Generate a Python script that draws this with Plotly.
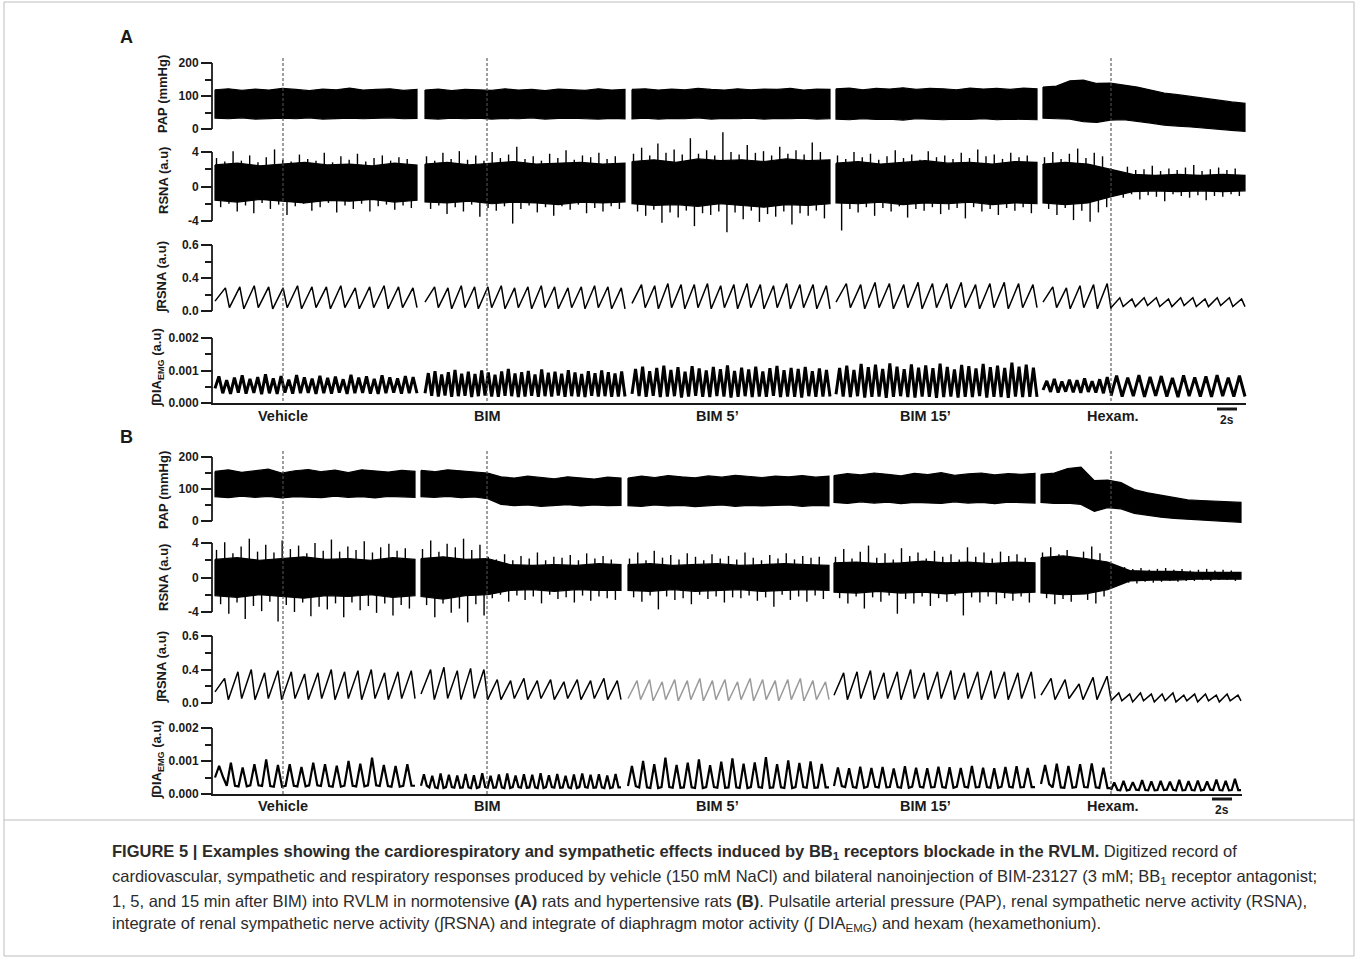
import numpy as np
import plotly.graph_objects as go

W, H = 1358, 959
FONT = "Liberation Sans, Arial, Helvetica, sans-serif"
INK = "#1a1a1a"

# ---------------- categories / labels ----------------
SEGMENT_LABELS = ["Vehicle", "BIM", "BIM 5’", "BIM 15’", "Hexam."]
SEGMENT_LABEL_T = [6.8, 27.2, 50.2, 71.0, 89.8]     # s
DASH_T = [6.8, 27.2, 89.6]                          # s (injection markers)

# time windows of each recording segment (s)
A_SEG_T = [(0.0, 20.2), (21.0, 41.0), (41.7, 61.5), (62.1, 82.2), (82.8, 103.0)]
B_SEG_T = [(0.0, 20.0), (20.6, 40.6), (41.3, 61.4), (61.9, 82.0), (82.6, 102.6)]
# pieces for rhythmic traces: hexam segment split at the injection mark
A_PIECE_T = A_SEG_T[:4] + [(82.8, 89.6), (89.6, 103.0)]
B_PIECE_T = B_SEG_T[:4] + [(82.6, 89.6), (89.6, 102.6)]

# ---------------- panel A (normotensive) ----------------
A_PAP_TOP = [
    [119, 122, 117, 121, 118, 123, 120, 116, 121, 119, 124, 118, 120, 122, 117, 120],
    [118, 121, 116, 120, 119, 117, 122, 118, 120, 116, 121, 119, 117, 122, 118, 120],
    [120, 122, 118, 121, 119, 123, 120, 118, 122, 119, 121, 120, 123, 118, 121, 120],
    [122, 124, 119, 123, 121, 125, 120, 123, 122, 119, 124, 121, 123, 120, 124, 122],
    [127, 130, 146, 148, 138, 139, 133, 127, 118, 109, 104, 98, 94, 88, 82, 78],
]
A_PAP_BOT = [
    [33, 31, 34, 30, 32, 33, 31, 34, 30, 32, 33, 31, 32, 34, 31, 32],
    [32, 30, 33, 31, 33, 30, 32, 31, 34, 30, 32, 33, 31, 30, 32, 31],
    [31, 33, 30, 32, 31, 34, 30, 32, 31, 33, 30, 32, 31, 33, 30, 31],
    [30, 28, 31, 29, 30, 27, 31, 29, 28, 30, 29, 31, 28, 30, 29, 28],
    [33, 31, 30, 22, 20, 27, 28, 24, 18, 12, 9, 6, 3, 0, -4, -7],
]
A_RSNA_CORE_TOP = [
    [2.5, 2.7, 2.4, 2.6, 2.8, 2.5, 2.6, 2.4, 2.7, 2.5],
    [2.6, 2.8, 2.5, 2.7, 2.9, 2.6, 2.7, 2.8, 2.6, 2.7],
    [2.9, 3.1, 2.8, 3.2, 3.0, 3.1, 2.9, 3.2, 3.0, 3.1],
    [2.7, 2.9, 2.6, 2.8, 3.0, 2.7, 2.8, 2.6, 2.9, 2.8],
    [2.6, 2.8, 2.6, 2.0, 1.4, 1.3, 1.4, 1.3, 1.4, 1.3],
]
A_RSNA_CORE_BOT = [
    [-1.6, -1.8, -1.5, -1.7, -1.9, -1.6, -1.7, -1.5, -1.8, -1.6],
    [-1.8, -1.9, -1.7, -2.0, -1.8, -1.9, -2.1, -1.8, -1.9, -1.8],
    [-2.0, -2.2, -2.1, -2.3, -2.0, -2.2, -2.4, -2.1, -2.2, -2.0],
    [-1.9, -2.0, -1.8, -2.1, -1.9, -2.0, -1.8, -2.1, -1.9, -2.0],
    [-1.9, -2.1, -1.9, -1.2, -0.6, -0.5, -0.6, -0.5, -0.6, -0.5],
]
A_RSNA_SPIKE_HI = [
    [3.3, 2.9, 4.1, 3.0, 3.6, 2.8, 3.4, 4.3, 3.1, 2.9, 3.7, 3.2, 3.0, 3.9, 2.8, 3.5, 3.1, 3.8, 2.9, 3.3, 3.6, 3.0, 3.4, 3.2],
    [3.5, 3.0, 3.9, 3.2, 4.1, 3.1, 3.6, 3.0, 4.0, 3.3, 3.7, 4.6, 3.2, 3.5, 3.0, 3.8, 3.3, 4.2, 3.1, 3.6, 3.4, 3.9, 3.2, 3.5],
    [3.8, 4.5, 3.6, 5.0, 3.9, 4.3, 3.7, 5.6, 3.8, 4.2, 3.6, 6.3, 4.0, 3.7, 4.8, 3.9, 4.1, 3.6, 4.6, 3.8, 4.2, 3.7, 5.1, 4.0],
    [3.6, 3.2, 4.0, 3.4, 3.8, 3.1, 3.5, 4.2, 3.3, 3.7, 3.1, 4.1, 3.4, 3.6, 3.2, 3.9, 3.3, 4.3, 3.5, 3.7, 3.2, 3.9, 3.4, 3.6],
    [3.4, 4.0, 3.2, 3.8, 4.4, 3.3, 3.9, 3.5, 2.1, 1.8, 2.3, 1.9, 2.0, 2.4, 1.8, 2.1, 1.9, 2.2, 2.5, 1.8, 2.0, 2.2, 1.9, 2.1],
]
A_RSNA_SPIKE_LO = [
    [-2.4, -2.0, -2.9, -2.2, -3.1, -1.9, -2.6, -2.1, -3.3, -2.3, -2.0, -2.8, -2.4, -1.9, -3.0, -2.2, -2.6, -2.0, -2.9, -2.3, -2.1, -2.7, -2.2, -2.5],
    [-2.6, -2.2, -3.2, -2.4, -2.9, -2.1, -3.5, -2.5, -2.8, -2.3, -4.3, -2.6, -2.2, -3.0, -2.4, -3.4, -2.3, -2.7, -2.1, -3.1, -2.5, -2.9, -2.3, -2.6],
    [-2.9, -3.4, -2.7, -4.2, -3.0, -3.6, -2.8, -4.6, -3.1, -3.3, -2.9, -5.3, -3.0, -3.8, -2.8, -4.1, -3.2, -3.5, -2.9, -4.4, -3.1, -3.4, -2.8, -3.7],
    [-5.1, -2.6, -3.0, -2.4, -3.4, -2.5, -2.9, -2.3, -3.6, -2.6, -2.8, -2.4, -3.2, -2.7, -2.5, -3.7, -2.4, -2.9, -2.6, -3.3, -2.5, -2.8, -2.4, -3.1],
    [-2.6, -3.3, -2.5, -3.9, -2.8, -4.1, -3.0, -2.4, -1.1, -1.3, -0.9, -1.5, -1.0, -1.2, -1.7, -0.9, -1.1, -1.3, -1.0, -1.6, -1.1, -1.2, -0.9, -1.1],
]
A_INT_PEAK = [
    [0.21, 0.22, 0.23, 0.22, 0.21, 0.23, 0.22, 0.22, 0.23, 0.21, 0.22, 0.23, 0.22, 0.21],
    [0.22, 0.21, 0.23, 0.22, 0.22, 0.23, 0.21, 0.22, 0.23, 0.22, 0.21, 0.22, 0.23, 0.22, 0.21],
    [0.24, 0.23, 0.25, 0.24, 0.24, 0.25, 0.23, 0.24, 0.25, 0.24, 0.23, 0.25, 0.24, 0.24, 0.23],
    [0.25, 0.24, 0.26, 0.25, 0.24, 0.26, 0.25, 0.25, 0.26, 0.24, 0.25, 0.26, 0.25, 0.24],
    [0.22, 0.21, 0.23, 0.24, 0.25],
    [0.12, 0.11, 0.12, 0.12, 0.11, 0.12, 0.12, 0.11, 0.12, 0.12, 0.11],
]
A_INT_TROUGH = [
    [0.09, 0.03, 0.02, 0.03, 0.02, 0.03, 0.02, 0.03, 0.02, 0.03, 0.02, 0.03, 0.02, 0.03],
    [0.08, 0.03, 0.02, 0.03, 0.02, 0.03, 0.02, 0.03, 0.02, 0.03, 0.02, 0.03, 0.02, 0.03, 0.02],
    [0.07, 0.03, 0.02, 0.03, 0.02, 0.03, 0.02, 0.03, 0.02, 0.03, 0.02, 0.03, 0.02, 0.03, 0.02],
    [0.08, 0.03, 0.02, 0.03, 0.02, 0.03, 0.02, 0.03, 0.02, 0.03, 0.02, 0.03, 0.02, 0.03],
    [0.08, 0.03, 0.02, 0.03, 0.02],
    [0.03, 0.04, 0.04, 0.05, 0.04, 0.04, 0.05, 0.04, 0.04, 0.05, 0.04],
]
A_DIA_PEAK = [
    [0.00082, 0.00070, 0.00078, 0.00085, 0.00074, 0.00080, 0.00088, 0.00076, 0.00083, 0.00072, 0.00086, 0.00079, 0.00075,
     0.00084, 0.00077, 0.00081, 0.00073, 0.00087, 0.00078, 0.00082, 0.00074, 0.00085, 0.00079, 0.00076, 0.00083, 0.00080],
    [0.00092, 0.00098, 0.00088, 0.00095, 0.00102, 0.00090, 0.00096, 0.00089, 0.00100, 0.00094, 0.00087, 0.00097, 0.00105,
     0.00091, 0.00095, 0.00099, 0.00088, 0.00103, 0.00093, 0.00096, 0.00090, 0.00101, 0.00094, 0.00089, 0.00098, 0.00092,
     0.00100, 0.00095, 0.00091, 0.00097],
    [0.00105, 0.00112, 0.00098, 0.00108, 0.00115, 0.00102, 0.00110, 0.00096, 0.00113, 0.00106, 0.00100, 0.00111, 0.00104,
     0.00116, 0.00099, 0.00109, 0.00103, 0.00112, 0.00097, 0.00107, 0.00114, 0.00101, 0.00108, 0.00105, 0.00111, 0.00098,
     0.00106, 0.00102],
    [0.00108, 0.00115, 0.00102, 0.00120, 0.00110, 0.00118, 0.00105, 0.00122, 0.00112, 0.00104, 0.00119, 0.00109, 0.00116,
     0.00107, 0.00121, 0.00111, 0.00103, 0.00117, 0.00113, 0.00106, 0.00120, 0.00110, 0.00115, 0.00108, 0.00124, 0.00112,
     0.00118, 0.00109],
    [0.00068, 0.00074, 0.00066, 0.00072, 0.00070, 0.00076, 0.00067, 0.00073, 0.00080],
    [0.00084, 0.00078, 0.00086, 0.00080, 0.00083, 0.00077, 0.00085, 0.00079, 0.00082, 0.00086, 0.00078, 0.00084],
]
A_DIA_TROUGH = [
    [0.00045, 0.00030, 0.00028, 0.00032, 0.00029, 0.00031, 0.00027, 0.00030, 0.00028, 0.00032, 0.00029, 0.00030, 0.00031,
     0.00028, 0.00030, 0.00029, 0.00032, 0.00028, 0.00030, 0.00031, 0.00029, 0.00028, 0.00030, 0.00032, 0.00029, 0.00030],
    [0.00030, 0.00022, 0.00020, 0.00023, 0.00019, 0.00021, 0.00022, 0.00018, 0.00021, 0.00023, 0.00020, 0.00019, 0.00022,
     0.00021, 0.00018, 0.00020, 0.00022, 0.00019, 0.00021, 0.00020, 0.00023, 0.00019, 0.00021, 0.00020, 0.00018, 0.00022,
     0.00020, 0.00021, 0.00019, 0.00020],
    [0.00028, 0.00021, 0.00019, 0.00022, 0.00018, 0.00020, 0.00021, 0.00017, 0.00020, 0.00022, 0.00019, 0.00018, 0.00021,
     0.00020, 0.00017, 0.00019, 0.00021, 0.00018, 0.00020, 0.00019, 0.00022, 0.00018, 0.00020, 0.00019, 0.00017, 0.00021,
     0.00019, 0.00020],
    [0.00027, 0.00020, 0.00018, 0.00021, 0.00017, 0.00019, 0.00020, 0.00016, 0.00019, 0.00021, 0.00018, 0.00017, 0.00020,
     0.00019, 0.00016, 0.00018, 0.00020, 0.00017, 0.00019, 0.00018, 0.00021, 0.00017, 0.00019, 0.00018, 0.00016, 0.00020,
     0.00018, 0.00019],
    [0.00040, 0.00034, 0.00032, 0.00035, 0.00033, 0.00031, 0.00034, 0.00032, 0.00030],
    [0.00022, 0.00020, 0.00021, 0.00019, 0.00022, 0.00020, 0.00018, 0.00021, 0.00020, 0.00019, 0.00021, 0.00020],
]

# ---------------- panel B (hypertensive) ----------------
B_PAP_TOP = [
    [155, 160, 152, 158, 162, 150, 157, 161, 154, 159, 151, 160, 156, 153, 158, 155],
    [158, 154, 160, 156, 152, 150, 138, 134, 140, 136, 132, 138, 135, 131, 137, 134],
    [134, 140, 136, 142, 138, 135, 141, 137, 143, 139, 136, 140, 138, 142, 137, 140],
    [142, 148, 144, 150, 146, 141, 149, 145, 151, 143, 147, 150, 144, 148, 146, 149],
    [146, 150, 164, 168, 126, 128, 120, 98, 88, 80, 72, 66, 64, 62, 60, 58],
]
B_PAP_BOT = [
    [76, 73, 78, 74, 77, 72, 76, 75, 73, 78, 74, 76, 72, 77, 75, 74],
    [76, 74, 77, 73, 75, 70, 52, 48, 50, 46, 49, 51, 47, 50, 48, 49],
    [48, 46, 50, 47, 49, 45, 48, 50, 46, 49, 47, 48, 50, 46, 49, 47],
    [58, 55, 60, 56, 59, 54, 58, 57, 55, 60, 56, 58, 54, 59, 57, 56],
    [58, 55, 56, 52, 30, 42, 38, 24, 18, 12, 8, 4, 2, 0, -2, -4],
]
B_RSNA_CORE_TOP = [
    [2.1, 2.3, 2.0, 2.2, 2.4, 2.1, 2.2, 2.0, 2.3, 2.1],
    [2.2, 2.4, 2.1, 2.2, 1.5, 1.4, 1.5, 1.4, 1.6, 1.5],
    [1.5, 1.6, 1.4, 1.5, 1.6, 1.4, 1.5, 1.6, 1.5, 1.4],
    [1.7, 1.8, 1.6, 1.7, 1.9, 1.7, 1.8, 1.6, 1.8, 1.7],
    [2.3, 2.5, 2.2, 1.8, 0.8, 0.7, 0.7, 0.6, 0.6, 0.6],
]
B_RSNA_CORE_BOT = [
    [-2.1, -2.3, -2.0, -2.2, -2.4, -2.1, -2.2, -2.0, -2.3, -2.1],
    [-2.2, -2.5, -2.1, -2.0, -1.5, -1.4, -1.6, -1.4, -1.5, -1.5],
    [-1.5, -1.6, -1.4, -1.6, -1.5, -1.4, -1.6, -1.5, -1.4, -1.5],
    [-1.7, -1.8, -1.6, -1.8, -1.7, -1.9, -1.7, -1.6, -1.8, -1.7],
    [-1.8, -2.0, -1.9, -1.4, -0.4, -0.3, -0.3, -0.2, -0.2, -0.2],
]
B_RSNA_SPIKE_HI = [
    [3.2, 4.1, 2.8, 3.6, 4.5, 3.0, 3.8, 2.9, 4.3, 3.3, 3.7, 2.8, 4.0, 3.1, 4.4, 3.0, 3.6, 3.2, 4.2, 2.9, 3.5, 3.9, 3.1, 3.4],
    [3.3, 4.3, 3.0, 3.9, 3.5, 4.5, 3.2, 3.8, 2.4, 2.1, 2.7, 2.0, 2.5, 2.2, 2.9, 2.0, 2.4, 2.3, 2.6, 2.0, 2.8, 2.2, 2.5, 2.1],
    [2.2, 2.9, 2.0, 3.1, 2.3, 2.6, 2.1, 2.8, 2.4, 2.0, 2.7, 2.2, 2.5, 2.1, 2.9, 2.3, 2.0, 2.6, 2.2, 2.8, 2.1, 2.5, 2.3, 2.4],
    [2.4, 3.3, 2.2, 3.0, 3.7, 2.3, 2.8, 2.1, 3.4, 2.5, 2.9, 2.2, 3.1, 2.4, 2.7, 2.1, 3.5, 2.4, 2.9, 2.2, 3.0, 2.5, 2.7, 2.3],
    [2.9, 3.5, 2.7, 3.2, 1.5, 3.0, 3.6, 2.8, 1.3, 1.1, 1.2, 1.0, 1.1, 0.9, 1.0, 1.1, 0.9, 1.0, 0.8, 0.9, 1.0, 0.8, 0.9, 0.8],
]
B_RSNA_SPIKE_LO = [
    [-3.1, -4.2, -2.9, -4.8, -3.3, -3.9, -2.8, -5.1, -3.2, -4.0, -2.9, -4.5, -3.4, -3.7, -3.0, -4.6, -2.9, -3.8, -3.3, -4.1, -3.0, -4.4, -3.2, -3.6],
    [-3.2, -4.6, -3.0, -4.1, -3.6, -5.2, -3.1, -4.4, -2.4, -2.0, -2.8, -2.1, -2.6, -2.2, -3.0, -2.0, -2.5, -2.3, -2.9, -2.1, -2.7, -2.2, -2.4, -2.6],
    [-2.3, -2.8, -2.1, -3.7, -2.2, -2.6, -2.4, -3.1, -2.0, -2.5, -2.2, -2.9, -2.3, -2.4, -2.1, -2.7, -2.3, -3.4, -2.0, -2.6, -2.2, -2.8, -2.1, -2.5],
    [-2.4, -3.0, -2.2, -3.6, -2.3, -2.8, -2.1, -4.2, -2.5, -3.0, -2.2, -3.3, -2.4, -2.8, -2.1, -4.4, -2.3, -2.9, -2.2, -3.1, -2.4, -2.7, -2.2, -2.9],
    [-2.4, -3.1, -2.5, -2.8, -1.2, -2.6, -3.0, -2.2, -0.8, -0.7, -0.6, -0.7, -0.5, -0.6, -0.5, -0.4, -0.5, -0.4, -0.4, -0.3, -0.4, -0.3, -0.3, -0.4],
]
B_INT_PEAK = [
    [0.22, 0.28, 0.30, 0.27, 0.29, 0.28, 0.26, 0.27, 0.30, 0.28, 0.29, 0.30, 0.27, 0.28, 0.29],
    [0.30, 0.32, 0.29, 0.31, 0.30, 0.21, 0.20, 0.22, 0.20, 0.21, 0.19, 0.21, 0.20, 0.22, 0.20],
    [0.20, 0.21, 0.19, 0.21, 0.20, 0.22, 0.20, 0.21, 0.19, 0.22, 0.21, 0.20, 0.21, 0.22, 0.20, 0.19],
    [0.27, 0.28, 0.29, 0.27, 0.28, 0.30, 0.27, 0.28, 0.29, 0.27, 0.28, 0.29, 0.28, 0.27, 0.28],
    [0.22, 0.21, 0.17, 0.23, 0.24],
    [0.09, 0.08, 0.09, 0.08, 0.08, 0.09, 0.07, 0.08, 0.08, 0.07, 0.08, 0.07],
]
B_INT_TROUGH = [
    [0.10, 0.03, 0.04, 0.03, 0.04, 0.03, 0.04, 0.03, 0.04, 0.03, 0.04, 0.03, 0.04, 0.03, 0.04],
    [0.08, 0.03, 0.04, 0.03, 0.04, 0.03, 0.03, 0.04, 0.03, 0.04, 0.03, 0.04, 0.03, 0.04, 0.03],
    [0.04, 0.03, 0.02, 0.03, 0.02, 0.03, 0.02, 0.03, 0.02, 0.03, 0.02, 0.03, 0.02, 0.03, 0.02, 0.03],
    [0.07, 0.03, 0.04, 0.03, 0.04, 0.03, 0.04, 0.03, 0.04, 0.03, 0.04, 0.03, 0.04, 0.03, 0.04],
    [0.07, 0.03, 0.04, 0.03, 0.03],
    [0.02, 0.02, 0.01, 0.02, 0.01, 0.02, 0.01, 0.02, 0.01, 0.02, 0.01, 0.02],
]
B_DIA_PEAK = [
    [0.00085, 0.00095, 0.00080, 0.00090, 0.00105, 0.00088, 0.00090, 0.00082, 0.00095, 0.00090, 0.00086, 0.00100,
     0.00092, 0.00110, 0.00088, 0.00085, 0.00090],
    [0.00060, 0.00055, 0.00062, 0.00058, 0.00056, 0.00061, 0.00057, 0.00063, 0.00055, 0.00059, 0.00062, 0.00056,
     0.00060, 0.00058, 0.00063, 0.00057, 0.00061, 0.00055, 0.00059, 0.00062, 0.00058, 0.00060, 0.00056, 0.00061],
    [0.00085, 0.00100, 0.00090, 0.00110, 0.00088, 0.00095, 0.00105, 0.00087, 0.00098, 0.00108, 0.00092, 0.00096,
     0.00112, 0.00090, 0.00102, 0.00094, 0.00099, 0.00091],
    [0.00080, 0.00078, 0.00083, 0.00079, 0.00082, 0.00077, 0.00084, 0.00080, 0.00078, 0.00083, 0.00081, 0.00079,
     0.00085, 0.00080, 0.00078, 0.00082, 0.00084, 0.00079],
    [0.00088, 0.00092, 0.00085, 0.00090, 0.00093, 0.00080],
    [0.00035, 0.00040, 0.00036, 0.00042, 0.00038, 0.00040, 0.00037, 0.00043, 0.00039, 0.00041, 0.00038, 0.00044,
     0.00040, 0.00046],
]
B_DIA_TROUGH = [
    [0.00050, 0.00025, 0.00023, 0.00026, 0.00024, 0.00022, 0.00025, 0.00023, 0.00026, 0.00024, 0.00022, 0.00025,
     0.00023, 0.00026, 0.00024, 0.00022, 0.00025],
    [0.00025, 0.00020, 0.00018, 0.00021, 0.00019, 0.00020, 0.00018, 0.00021, 0.00019, 0.00020, 0.00018, 0.00021,
     0.00019, 0.00020, 0.00018, 0.00021, 0.00019, 0.00020, 0.00018, 0.00021, 0.00019, 0.00020, 0.00018, 0.00020],
    [0.00024, 0.00020, 0.00018, 0.00021, 0.00019, 0.00020, 0.00018, 0.00021, 0.00019, 0.00020, 0.00018, 0.00021,
     0.00019, 0.00020, 0.00018, 0.00021, 0.00019, 0.00020],
    [0.00024, 0.00021, 0.00019, 0.00022, 0.00020, 0.00021, 0.00019, 0.00022, 0.00020, 0.00021, 0.00019, 0.00022,
     0.00020, 0.00021, 0.00019, 0.00022, 0.00020, 0.00021],
    [0.00030, 0.00020, 0.00019, 0.00021, 0.00020, 0.00018],
    [0.00012, 0.00011, 0.00013, 0.00012, 0.00011, 0.00012, 0.00013, 0.00011, 0.00012, 0.00011, 0.00013, 0.00012,
     0.00011, 0.00012],
]

CAPTION = [
    "<b>FIGURE 5 | Examples showing the cardiorespiratory and sympathetic effects induced by BB<sub>1</sub> receptors blockade in the RVLM.</b> Digitized record of",
    "cardiovascular, sympathetic and respiratory responses produced by vehicle (150 mM NaCl) and bilateral nanoinjection of BIM-23127 (3 mM; BB<sub>1</sub> receptor antagonist;",
    "1, 5, and 15 min after BIM) into RVLM in normotensive <b>(A)</b> rats and hypertensive rats <b>(B)</b>. Pulsatile arterial pressure (PAP), renal sympathetic nerve activity (RSNA),",
    "integrate of renal sympathetic nerve activity (∫RSNA) and integrate of diaphragm motor activity (∫ DIA<sub>EMG</sub>) and hexam (hexamethonium).",
]

# ---------------- layout geometry (pixels) ----------------
X0_PX, PX_PER_S = 215.0, 10.0
AXIS_X = 212.0


def px_x(p):
    return p / W


def px_y(p):
    return 1 - p / H


def yrange(v0, p0, v1, p1):
    s = (p0 - p1) / (v1 - v0)
    return [v0 - (H - p0) / s, v0 + p0 / s]


fig = go.Figure()
TRACE_STYLE = dict(mode="lines", hoverinfo="skip", showlegend=False, xaxis="x")


def add_band(seg_t, tops, bots, yax, width=1.2):
    for (t0, t1), tp, bt in zip(seg_t, tops, bots):
        xs = list(np.linspace(t0, t1, len(tp)))
        x = xs + xs[::-1] + [xs[0]]
        y = list(tp) + list(bt)[::-1] + [tp[0]]
        fig.add_trace(go.Scatter(x=x, y=y, fill="toself", fillcolor="black",
                                 line=dict(color="black", width=width), yaxis=yax, **TRACE_STYLE))


def add_spikes(seg_t, his, los, yax, width=1.4):
    # upward excursions at one set of instants, downward ones half a step later
    for (t0, t1), hi, lo in zip(seg_t, his, los):
        n = len(hi)
        step = (t1 - t0 - 0.3) / n
        x, y = [], []
        for i in range(n):
            xu = t0 + 0.15 + i * step
            xd = xu + step / 2
            x += [xu, xu, None, xd, xd, None]
            y += [0.3, hi[i], None, 0.3, lo[i], None]
        fig.add_trace(go.Scatter(x=x, y=y, line=dict(color="black", width=width), yaxis=yax,
                                 connectgaps=False, **TRACE_STYLE))


def add_saw(piece_t, peaks, troughs, yax, colors=None, width=1.5):
    for k, ((t0, t1), pk, tr) in enumerate(zip(piece_t, peaks, troughs)):
        n = len(pk)
        T = (t1 - t0) / n
        x, y = [], []
        for i in range(n):
            x += [t0 + i * T, t0 + (i + 0.72) * T]
            y += [tr[i], pk[i]]
        x.append(t1)
        y.append(tr[-1])
        col = colors[k] if colors else "black"
        fig.add_trace(go.Scatter(x=x, y=y, line=dict(color=col, width=width), yaxis=yax, **TRACE_STYLE))


def add_bursts(piece_t, peaks, troughs, yax, shape, width):
    for (t0, t1), pk, tr in zip(piece_t, peaks, troughs):
        n = len(pk)
        T = (t1 - t0) / n
        x, y = [], []
        for i in range(n):
            for frac, kind in shape:
                x.append(t0 + (i + frac) * T)
                y.append(pk[i] if kind == "p" else tr[i])
        x.append(t1)
        y.append(tr[-1])
        fig.add_trace(go.Scatter(x=x, y=y, line=dict(color="black", width=width), yaxis=yax, **TRACE_STYLE))


# panel A
add_band(A_SEG_T, A_PAP_TOP, A_PAP_BOT, "y")
add_band(A_SEG_T, A_RSNA_CORE_TOP, A_RSNA_CORE_BOT, "y2")
add_spikes(A_SEG_T, A_RSNA_SPIKE_HI, A_RSNA_SPIKE_LO, "y2")
add_saw(A_PIECE_T, A_INT_PEAK, A_INT_TROUGH, "y3")
add_bursts(A_PIECE_T, A_DIA_PEAK, A_DIA_TROUGH, "y4", [(0.0, "t"), (0.5, "p")], 3.0)
# panel B
add_band(B_SEG_T, B_PAP_TOP, B_PAP_BOT, "y5")
add_band(B_SEG_T, B_RSNA_CORE_TOP, B_RSNA_CORE_BOT, "y6")
add_spikes(B_SEG_T, B_RSNA_SPIKE_HI, B_RSNA_SPIKE_LO, "y6")
add_saw(B_PIECE_T, B_INT_PEAK, B_INT_TROUGH, "y7",
        colors=["black", "black", "#9a9a9a", "black", "black", "black"])
add_bursts(B_PIECE_T, B_DIA_PEAK, B_DIA_TROUGH, "y8",
           [(0.0, "t"), (0.35, "p"), (0.7, "t")], 2.2)

# ---------------- axes ----------------
AXES = {
    # name: (calibration v0,p0,v1,p1, major vals, major text, minor vals, title, title centre px (x, y))
    "yaxis":  ((0, 129, 200, 63), [0, 100, 200], ["0", "100", "200"], [50, 150], "PAP (mmHg)", (163, 94)),
    "yaxis2": ((-4, 221, 4, 152), [-4, 0, 4], ["-4", "0", "4"], [-2, 2], "RSNA (a.u)", (163, 181)),
    "yaxis3": ((0, 311, 0.6, 245), [0, 0.3, 0.6], ["0.0", "0.4", "0.6"], [0.15, 0.45], "∫RSNA (a.u)", (161, 277)),
    "yaxis4": ((0, 403, 0.002, 338), [0, 0.001, 0.002], ["0.000", "0.001", "0.002"], [0.0005, 0.0015],
               "∫DIA<sub>EMG</sub> (a.u)", (157, 368)),
    "yaxis5": ((0, 521, 200, 457), [0, 100, 200], ["0", "100", "200"], [50, 150], "PAP (mmHg)", (163, 490)),
    "yaxis6": ((-4, 612, 4, 543), [-4, 0, 4], ["-4", "0", "4"], [-2, 2], "RSNA (a.u)", (163, 578)),
    "yaxis7": ((0, 703, 0.6, 636), [0, 0.3, 0.6], ["0.0", "0.4", "0.6"], [0.15, 0.45], "∫RSNA (a.u)", (161, 667)),
    "yaxis8": ((0, 794, 0.002, 728), [0, 0.001, 0.002], ["0.000", "0.001", "0.002"], [0.0005, 0.0015],
               "∫DIA<sub>EMG</sub> (a.u)", (157, 760)),
}

layout_axes = {}
shapes = []
annotations = []


def note(text, xpx, ypx, size, **kw):
    d = dict(text=text, x=px_x(xpx), y=px_y(ypx), xref="paper", yref="paper", showarrow=False,
             xanchor="center", yanchor="middle", font=dict(family=FONT, size=size, color=INK))
    d.update(kw)
    annotations.append(d)


for name, (cal, mv, mt, minv, title, (tx, ty)) in AXES.items():
    cfg = dict(range=yrange(*cal), domain=[0, 1], anchor="free", position=px_x(AXIS_X),
               side="left", showline=False, showgrid=False, zeroline=False,
               ticks="outside", ticklen=11, tickwidth=1.6, tickcolor=INK,
               tickvals=mv, ticktext=mt,
               tickfont=dict(family=FONT, size=12, color=INK, weight="bold"),
               minor=dict(tickvals=minv, ticks="outside", ticklen=7, tickwidth=1.6,
                          tickcolor=INK, showgrid=False),
               fixedrange=True)
    if name != "yaxis":
        cfg["overlaying"] = "y"
    layout_axes[name] = cfg
    ref = "y" if name == "yaxis" else "y" + name[5:]
    shapes.append(dict(type="line", xref="paper", yref=ref, x0=px_x(AXIS_X), x1=px_x(AXIS_X),
                       y0=cal[0], y1=cal[2], line=dict(color=INK, width=1.8)))
    note(f"<b>{title}</b>", tx, ty, 13, textangle=-90)

# dashed injection markers
for t in DASH_T:
    for (ya, yb) in [(58, 402), (451, 795)]:
        shapes.append(dict(type="line", xref="x", yref="paper", x0=t, x1=t, y0=px_y(ya), y1=px_y(yb),
                           line=dict(color="#505050", width=1.1, dash="3px,2px")))

# baselines
shapes.append(dict(type="line", xref="paper", yref="paper", x0=px_x(211), x1=px_x(1246),
                   y0=px_y(404), y1=px_y(404), line=dict(color=INK, width=2.2)))
shapes.append(dict(type="line", xref="paper", yref="paper", x0=px_x(211), x1=px_x(1242),
                   y0=px_y(795), y1=px_y(795), line=dict(color=INK, width=2.2)))
# scale bars (2 s)
for (bx, by) in [(1217, 409), (1212, 799)]:
    shapes.append(dict(type="line", xref="paper", yref="paper", x0=px_x(bx), x1=px_x(bx + 2 * PX_PER_S),
                       y0=px_y(by), y1=px_y(by), line=dict(color=INK, width=3)))
    note("<b>2s</b>", bx + PX_PER_S, by + 11, 12)

# segment labels
for ypx in (416, 806):
    for lab, t in zip(SEGMENT_LABELS, SEGMENT_LABEL_T):
        note(f"<b>{lab}</b>", X0_PX + PX_PER_S * t, ypx, 14.5)

# panel letters
note("<b>A</b>", 126, 37, 18)
note("<b>B</b>", 126, 437, 18)

# frame
shapes.append(dict(type="rect", xref="paper", yref="paper", x0=px_x(4), x1=px_x(1354),
                   y0=px_y(956), y1=px_y(2), line=dict(color="#bdbdbd", width=1)))
shapes.append(dict(type="line", xref="paper", yref="paper", x0=px_x(4), x1=px_x(1354),
                   y0=px_y(820), y1=px_y(820), line=dict(color="#bdbdbd", width=1)))

# caption
for line, ypx in zip(CAPTION, (852, 877, 901, 924)):
    note(line, 110, ypx, 16.5, xanchor="left", align="left",
         font=dict(family=FONT, size=16.5, color="#2b2b2b"))

fig.update_layout(
    width=W, height=H, margin=dict(l=0, r=0, t=0, b=0),
    paper_bgcolor="white", plot_bgcolor="white", showlegend=False,
    xaxis=dict(range=[-X0_PX / PX_PER_S, (W - X0_PX) / PX_PER_S], domain=[0, 1], visible=False,
               fixedrange=True, anchor="y"),
    shapes=shapes, annotations=annotations,
    **layout_axes,
)

fig.write_html("out.html", config={"displayModeBar": False},
               post_script="document.body.style.margin='0';")
